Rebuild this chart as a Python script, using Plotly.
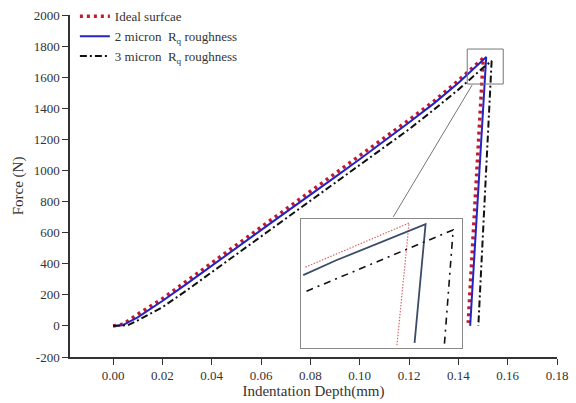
import plotly.graph_objects as go

# ---------------- main data (mm, N) ----------------
ideal_x = [0.0, 0.004, 0.01, 0.02, 0.03, 0.04, 0.05, 0.06, 0.07, 0.08, 0.09, 0.10, 0.11, 0.12, 0.13, 0.14, 0.1501, 0.1440]
ideal_f = [0, 10, 75, 175, 290, 405, 520, 635, 750, 860, 975, 1090, 1205, 1325, 1445, 1578, 1723, 20]

r2_x = [0.0, 0.004, 0.01, 0.02, 0.03, 0.04, 0.05, 0.06, 0.07, 0.08, 0.09, 0.10, 0.11, 0.12, 0.13, 0.14, 0.1513, 0.1448]
r2_f = [0, 5, 55, 160, 272, 388, 502, 616, 730, 842, 957, 1072, 1188, 1308, 1430, 1562, 1730, 0]

r3_x = [0.0, 0.006, 0.01, 0.02, 0.03, 0.04, 0.05, 0.06, 0.07, 0.08, 0.09, 0.10, 0.11, 0.12, 0.13, 0.14, 0.15, 0.1535, 0.1481]
r3_f = [0, 5, 35, 120, 230, 345, 460, 575, 690, 800, 915, 1030, 1145, 1265, 1390, 1520, 1660, 1705, 0]

# ---------------- inset (zoomed peak detail) ----------------
inset_ideal_x = [0.1440, 0.1534, 0.1523]
inset_ideal_f = [1697, 1774, 1561]
inset_r2_x = [0.1438, 0.1468, 0.1549, 0.1539]
inset_r2_f = [1683, 1709, 1772, 1565]
inset_r3_x = [0.1441, 0.1574, 0.1566]
inset_r3_f = [1655, 1762, 1561]

zoom_x = [0.1436, 0.1582]
zoom_f = [1556, 1781]

x_ticks = [0.00, 0.02, 0.04, 0.06, 0.08, 0.10, 0.12, 0.14, 0.16, 0.18]
x_labels = ["0.00", "0.02", "0.04", "0.06", "0.08", "0.10", "0.12", "0.14", "0.16", "0.18"]
y_ticks = [-200, 0, 200, 400, 600, 800, 1000, 1200, 1400, 1600, 1800, 2000]
y_labels = ["-200", "0", "200", "400", "600", "800", "1000", "1200", "1400", "1600", "1800", "2000"]

names = ["Ideal surfcae", "2 micron  R<sub>q</sub> roughness", "3 micron  R<sub>q</sub> roughness"]

FONT = "Liberation Serif"
RED = "#c41a2c"
BLUE = "#2424c4"
BLACK = "#111111"
TXT = "#333333"

fig = go.Figure()
fig.add_trace(go.Scatter(x=ideal_x, y=ideal_f, mode="lines", name=names[0],
                         line=dict(color=RED, width=3.5, dash="3px,4px")))
fig.add_trace(go.Scatter(x=r2_x, y=r2_f, mode="lines", name=names[1],
                         line=dict(color=BLUE, width=2)))
fig.add_trace(go.Scatter(x=r3_x, y=r3_f, mode="lines", name=names[2],
                         line=dict(color=BLACK, width=2, dash="7px,3px,2px,3px")))

# inset traces
fig.add_trace(go.Scatter(x=inset_ideal_x, y=inset_ideal_f, mode="lines", showlegend=False,
                         xaxis="x2", yaxis="y2", line=dict(color="#d86a6a", width=1.2, dash="1.5px,1.5px")))
fig.add_trace(go.Scatter(x=inset_r2_x, y=inset_r2_f, mode="lines", showlegend=False,
                         xaxis="x2", yaxis="y2", line=dict(color="#3c4c68", width=1.8)))
fig.add_trace(go.Scatter(x=inset_r3_x, y=inset_r3_f, mode="lines", showlegend=False,
                         xaxis="x2", yaxis="y2", line=dict(color=BLACK, width=1.6, dash="7px,5px,2px,5px")))

# zoom box and connector
fig.add_shape(type="rect", xref="x", yref="y", x0=zoom_x[0], x1=zoom_x[1], y0=zoom_f[0], y1=zoom_f[1],
              line=dict(color="#777777", width=1))
fig.add_shape(type="line", xref="x", yref="y", x0=0.1136, y0=701, x1=0.1456, y1=1550,
              line=dict(color="#777777", width=1))

fig.update_layout(
    width=576, height=403,
    margin=dict(l=70, r=19, t=15, b=46, autoexpand=False),
    paper_bgcolor="white", plot_bgcolor="white",
    font=dict(family=FONT, size=13, color=TXT),
    showlegend=True,
    legend=dict(x=0.01, y=1.04, xanchor="left", yanchor="top", bgcolor="rgba(0,0,0,0)",
                font=dict(family=FONT, size=13, color=TXT), tracegroupgap=0),
    xaxis=dict(range=[-0.01744, 0.18], tickvals=x_ticks, ticktext=x_labels,
               showgrid=False, zeroline=False, showline=True, linecolor=TXT, linewidth=1.5,
               ticks="outside", ticklen=6, tickwidth=1.2, tickcolor=TXT,
               tickfont=dict(family=FONT, size=13, color=TXT),
               title=dict(text="Indentation Depth(mm)", font=dict(size=15, family=FONT, color=TXT), standoff=2)),
    yaxis=dict(range=[-200, 2000], tickvals=y_ticks, ticktext=y_labels,
               showgrid=False, zeroline=False, showline=True, linecolor=TXT, linewidth=1.5,
               ticks="outside", ticklen=6, tickwidth=1.2, tickcolor=TXT,
               tickfont=dict(family=FONT, size=13, color=TXT),
               title=dict(text="Force (N)", font=dict(size=15, family=FONT, color=TXT), standoff=6)),
    xaxis2=dict(domain=[0.4743, 0.8049], anchor="y2", range=zoom_x, showticklabels=False,
                showgrid=False, zeroline=False, showline=True, mirror=True, linecolor="#888888", linewidth=1,
                ticks=""),
    yaxis2=dict(domain=[0.0263, 0.4035], anchor="x2", range=zoom_f, showticklabels=False,
                showgrid=False, zeroline=False, showline=True, mirror=True, linecolor="#888888", linewidth=1,
                ticks=""),
)

fig.write_html("out.html")
